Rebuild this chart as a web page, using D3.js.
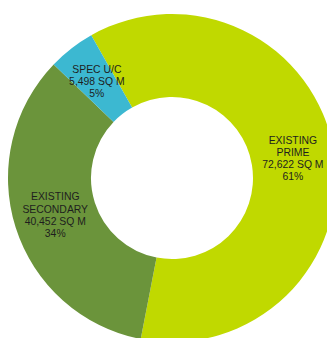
<!DOCTYPE html>
<html>
<head>
<meta charset="utf-8">
<script src="https://d3js.org/d3.v7.min.js"></script>
<style>
  body { margin: 0; background: #fff; overflow: hidden; }
  text { font-family: "Liberation Sans", Arial, sans-serif; }
</style>
</head>
<body>
<div class="donut"></div>
<script>
var svgWidth = 327;
var svgHeight = 338;

// chart data
var categories = ["EXISTING PRIME", "EXISTING SECONDARY", "SPEC U/C"];
var areas = [72622, 40452, 5498];
var shares = ["61%", "34%", "5%"];
var colors = ["#c0d900", "#6b943b", "#3cb8d1"];

var cx = 172, cy = 178;
var outerR = 164, innerR = 81;

var svg = d3.select(".donut")
  .append("svg")
  .attr("width", svgWidth)
  .attr("height", svgHeight);

var chartGroup = svg.append("g")
  .attr("transform", `translate(${cx}, ${cy})`);

var data = categories.map((c, i) => ({ name: c, value: areas[i], share: shares[i], color: colors[i] }));

var startDeg = -29.5;
var pie = d3.pie()
  .sort(null)
  .value(d => d.value)
  .startAngle(startDeg * Math.PI / 180)
  .endAngle((startDeg + 360) * Math.PI / 180);

var arc = d3.arc().innerRadius(innerR).outerRadius(outerR);
var labelArc = d3.arc().innerRadius(innerR + 1).outerRadius(outerR - 1);

var arcs = pie(data);

chartGroup.selectAll("path")
  .data(arcs)
  .enter()
  .append("path")
  .attr("d", arc)
  .attr("fill", d => d.data.color);

// labels: name words split, then value and share
function labelLines(d) {
  var words = d.data.name.split(" ");
  if (d.data.name === "SPEC U/C") words = ["SPEC U/C"];
  return words.concat([d3.format(",")(d.data.value) + " SQ M", d.data.share]);
}

var lineH = 12.2;
var labels = chartGroup.selectAll(".lbl")
  .data(arcs)
  .enter()
  .append("text")
  .attr("class", "lbl")
  .attr("text-anchor", "middle")
  .attr("font-size", "10.4px")
  .attr("fill", "#1e1e1e")
  .attr("transform", d => {
    var c = labelArc.centroid(d);
    return `translate(${c[0]}, ${c[1]})`;
  });

labels.each(function(d) {
  var lines = labelLines(d);
  var el = d3.select(this);
  var y0 = -(lines.length - 1) * lineH / 2;
  lines.forEach((t, i) => {
    el.append("tspan")
      .attr("x", 0)
      .attr("y", y0 + i * lineH)
      .attr("dy", "0.35em")
      .text(t);
  });
});
</script>
</body>
</html>
